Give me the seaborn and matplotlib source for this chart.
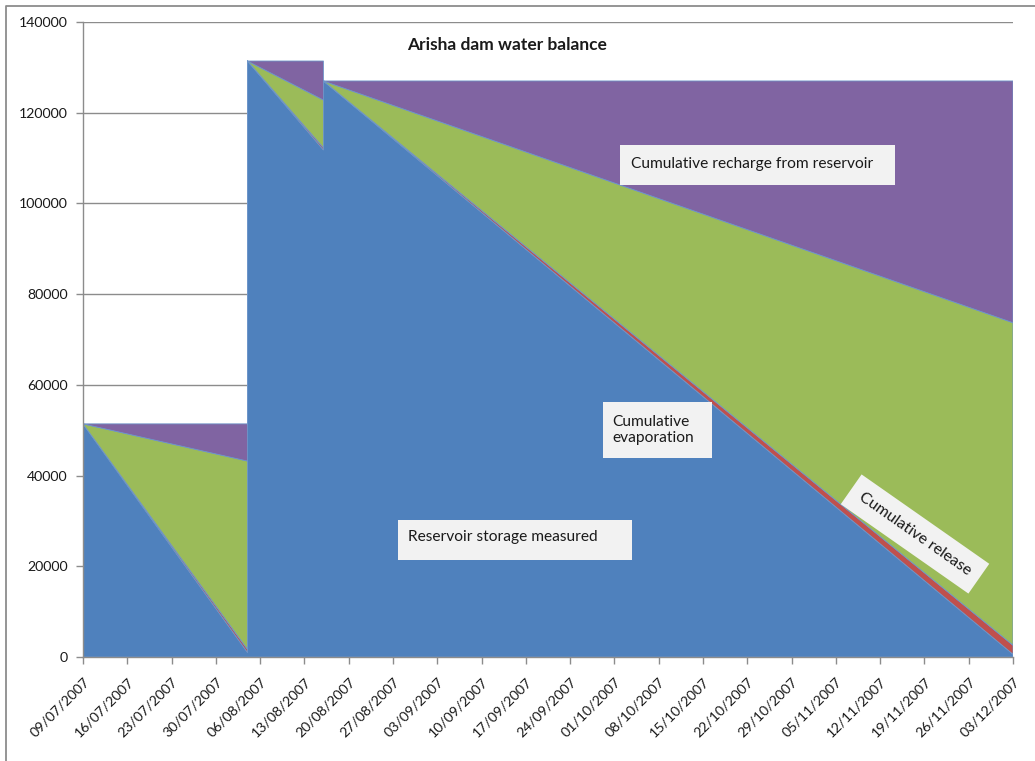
import numpy as np
import pandas as pd
import matplotlib
matplotlib.use("Agg")
import matplotlib.pyplot as plt
import matplotlib.dates as mdates
from matplotlib.patches import Rectangle
import seaborn as sns

# Water balance components (m3) at the start and end of each filling period
dates = ["2007-07-09", "2007-08-04", "2007-08-04", "2007-08-16", "2007-08-16", "2007-12-03"]
storage = [51400, 1000, 131400, 111800, 127000, 600]
release = [0, 700, 0, 500, 0, 2000]
evaporation = [0, 41500, 0, 10500, 0, 71100]
recharge = [0, 8200, 0, 8600, 0, 53300]

series_names = ["Reservoir storage measured", "Cumulative release",
                "Cumulative evaporation", "Cumulative recharge from reservoir"]
colors = ["#4F81BD", "#C0504D", "#9BBB59", "#8064A2"]

y_ticks = [0, 20000, 40000, 60000, 80000, 100000, 120000, 140000]
x_start, x_end = "2007-07-09", "2007-12-03"

df = pd.DataFrame({
    "date": pd.to_datetime(dates),
    series_names[0]: storage,
    series_names[1]: release,
    series_names[2]: evaporation,
    series_names[3]: recharge,
})

sns.set_theme(style="white")
plt.rcParams["font.family"] = ["Lato", "DejaVu Sans"]

W, H = 1035, 761
fig = plt.figure(figsize=(W / 100, H / 100), dpi=100)
ax = fig.add_axes([83 / W, 1 - 657 / H, 930 / W, 635 / H])

# outer chart frame (top and left edges of the chart area)
ax.plot([6 / W, 6 / W, 1.0], [0.0, 1 - 6 / H, 1 - 6 / H], transform=fig.transFigure,
        color="#8c8c8c", linewidth=1.3, clip_on=False, zorder=10)

ax.stackplot(df["date"], *[df[n] for n in series_names], colors=colors,
             linewidth=0.6, edgecolors=["#6d95c9", "#c86b68", "#aec87a", "#9781b4"],
             zorder=2)

ax.set_xlim(pd.Timestamp(x_start), pd.Timestamp(x_end))
ax.set_ylim(0, 140000)
ax.set_yticks(y_ticks)
ax.set_yticklabels([str(v) for v in y_ticks])

ax.xaxis.set_major_locator(mdates.WeekdayLocator(byweekday=mdates.MO, interval=1))
ax.xaxis.set_major_formatter(mdates.DateFormatter("%d/%m/%Y"))

ax.grid(axis="y", color="#8c8c8c", linewidth=1.0)
ax.set_axisbelow(True)
for s in ["top", "right"]:
    ax.spines[s].set_visible(False)
for s in ["left", "bottom"]:
    ax.spines[s].set_color("#8c8c8c")
    ax.spines[s].set_linewidth(1.0)
    ax.spines[s].set_zorder(3)

ax.tick_params(axis="both", which="major", direction="out", length=5, width=1,
               color="#8c8c8c", labelsize=10.2, labelcolor="#1a1a1a")
ax.tick_params(axis="y", pad=6)
ax.tick_params(axis="x", pad=8)
ax.tick_params(left=True, bottom=True)
for lbl in ax.get_xticklabels():
    lbl.set_rotation(45)
    lbl.set_ha("right")
    lbl.set_va("top")
    lbl.set_rotation_mode("anchor")

ax.set_xlabel("")
ax.set_ylabel("")


def px(x, y):
    """Figure pixel position -> axes fraction."""
    return (x - 83) / 930, (657 - y) / 635


def label_box(x0, y0, x1, y1, tx, ty, text):
    bx, by = px(x0, y1)
    w, h = (x1 - x0) / 930, (y1 - y0) / 635
    ax.add_patch(Rectangle((bx, by), w, h, transform=ax.transAxes,
                           facecolor="#F2F2F2", edgecolor="none", zorder=5))
    ax.text(*px(tx, ty), text, transform=ax.transAxes, ha="left", va="center",
            fontsize=11.2, color="#1a1a1a", zorder=6, linespacing=1.2)


ax.text(*px(507, 45), "Arisha dam water balance", transform=ax.transAxes,
        ha="center", va="center", fontsize=12.5, fontweight="bold", color="#1a1a1a")

label_box(620, 145, 895, 185, 631, 164, "Cumulative recharge from reservoir")
label_box(603, 402, 712, 458, 612, 430, "Cumulative\nevaporation")
label_box(398, 520, 632, 560, 408, 537, "Reservoir storage measured")

ax.text(*px(915, 534), "Cumulative release", transform=ax.transAxes,
        ha="center", va="center", rotation=-35, rotation_mode="anchor",
        fontsize=11.5, color="#1a1a1a", zorder=6,
        bbox=dict(boxstyle="square,pad=0.7", facecolor="#F2F2F2", edgecolor="none"))

fig.savefig("out.png", dpi=100, facecolor="white")
